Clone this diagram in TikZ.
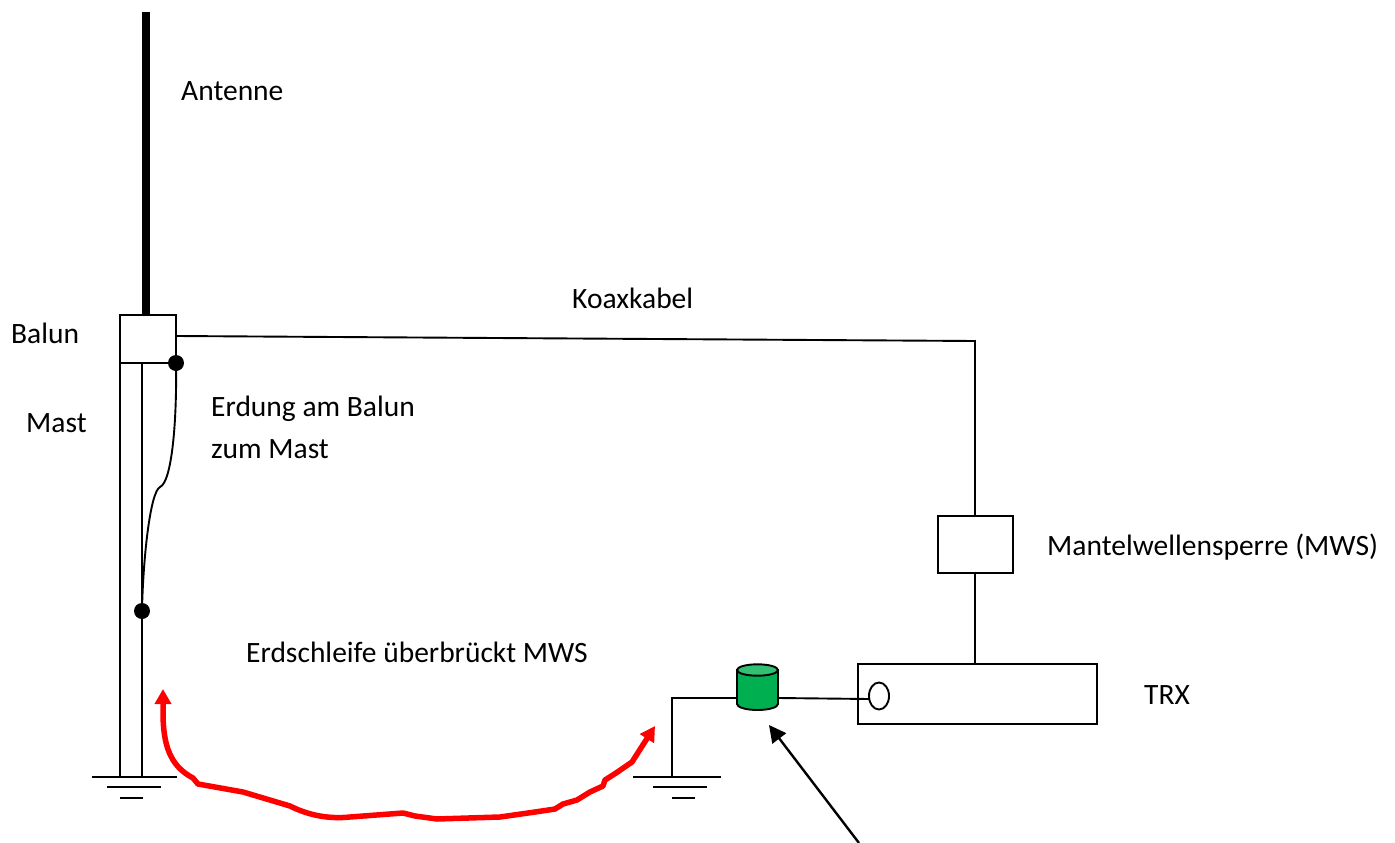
\documentclass[tikz,border=0pt]{standalone}
\usepackage{fontspec}
\setmainfont{Carlito}
\usetikzlibrary{arrows.meta,shapes.geometric}
\definecolor{chokebody}{RGB}{0,176,80}
\definecolor{choketop}{RGB}{51,192,115}
\tikzset{
  x=1pt,y=-1pt,
  wire/.style={draw=black,line width=1.9pt},
  thin wire/.style={draw=black,line width=1.6pt},
  boxnode/.style={draw=black,line width=1.9pt,fill=white,inner sep=0pt,outer sep=0pt,anchor=north west},
  lbl/.style={anchor=west,inner sep=0pt,font=\fontsize{29.5}{34}\selectfont},
  dot/.style={circle,fill=black,draw=none,minimum size=16pt,inner sep=0pt},
}
\begin{document}
\begin{tikzpicture}
\useasboundingbox (0,0) rectangle (1395,843);
% antenna and balun
\coordinate (anttop) at (146,12);
\coordinate (antbot) at (146,316);
\draw[line width=7.5pt,black] (anttop) -- (antbot);
% mast
\node[boxnode,minimum width=22pt,minimum height=414pt] (mast) at (120,363) {};
\node[boxnode,minimum width=56pt,minimum height=48pt] (balun) at (120,315) {};
% ground 1
\coordinate (gaL) at (92,777); \coordinate (gaR) at (177,777);
\coordinate (gbL) at (107,787); \coordinate (gbR) at (161,787);
\coordinate (gcL) at (120,798); \coordinate (gcR) at (143,798);
\draw[thin wire] (gaL)--(gaR) (gbL)--(gbR) (gcL)--(gcR);
% earthing strap
\node[dot] (d1) at (176,363) {};
\node[dot] (d2) at (142,611) {};
\coordinate (kink) at (160,487);
\draw[line width=1.9pt] (d1.center) .. controls (177,420) and (172,482) .. (kink)
   .. controls (150,492) and (143,560) .. (d2.center);
% coax
\node[boxnode,minimum width=75pt,minimum height=57pt] (mws) at (938,516) {};
\node[boxnode,minimum width=239pt,minimum height=60pt] (trx) at (858,664) {};
\coordinate (coaxA) at (176,336);
\coordinate (coaxB) at (975,341);
\draw[wire] (coaxA) -- (coaxB) -- (coaxB |- mws.north);
\draw[wire] (coaxB |- mws.south) -- (coaxB |- trx.north);
% TRX socket
\node[ellipse,draw=black,line width=1.9pt,fill=white,minimum width=20pt,minimum height=27pt,inner sep=0pt] (sock) at (879,696) {};
% choke cylinder
\coordinate (cL) at (737,698);
\coordinate (cR) at (778,698);
\coordinate (sockL) at (869,699);
\coordinate (corner) at (672,698);
\coordinate (g2) at (672,777);
\draw[wire] (g2) -- (corner) -- (cL);
\draw[wire] (cR) -- (sockL);
\draw[line width=1.9pt,fill=chokebody] (737,670) -- (737,704) arc[start angle=180,end angle=360,x radius=20.5pt,y radius=6pt] -- (778,670) -- cycle;
\draw[line width=1.9pt,fill=choketop] (757.5,670) ellipse[x radius=20.5pt,y radius=5.7pt];
% ground 2
\coordinate (haL) at (633,777); \coordinate (haR) at (721,777);
\coordinate (hbL) at (653,787); \coordinate (hbR) at (707,787);
\coordinate (hcL) at (672,798); \coordinate (hcR) at (695,798);
\draw[thin wire] (haL)--(haR) (hbL)--(hbR) (hcL)--(hcR);
% black arrow
\coordinate (aS) at (859,843);
\coordinate (aE) at (769,725);
\draw[line width=2.4pt,-{Triangle[length=17pt,width=17pt]}] (aS) -- (aE);
% red loop
\coordinate (rS) at (655,726);
\coordinate (rE) at (163,689);
\draw[red,line width=5.5pt,line join=round,{Triangle[length=15pt,width=16pt]}-{Triangle[length=15pt,width=16pt]}]
  (rE) -- (163,712) .. controls (163,745) and (170,766) .. (193,778)
  -- (198,784) -- (243,792) -- (290,806) .. controls (310,816) and (330,819) .. (350,817)
  -- (403,813) -- (415,816) -- (437,819) -- (500,817) -- (535,812) -- (555,809) -- (563,804)
  -- (577,800) -- (590,792) -- (603,786) -- (605,780) -- (616,773) -- (632,762) -- (rS);
% labels
\node[lbl] (t1) at (181,91) {Antenne};
\node[lbl] (t2) at (572,298) {Koaxkabel};
\node[lbl] (t3) at (11,333) {Balun};
\node[lbl] (t4) at (26,423) {Mast};
\node[lbl] (t5) at (211,409) {Erdung am Balun};
\node[lbl] (t6) at (211,449) {zum Mast};
\node[lbl] (t7) at (1047,547) {Mantelwellensperre (MWS)};
\node[lbl] (t8) at (1144,695) {TRX};
\node[lbl] (t9) at (246,652) {Erdschleife überbrückt MWS};
\end{tikzpicture}
\end{document}
